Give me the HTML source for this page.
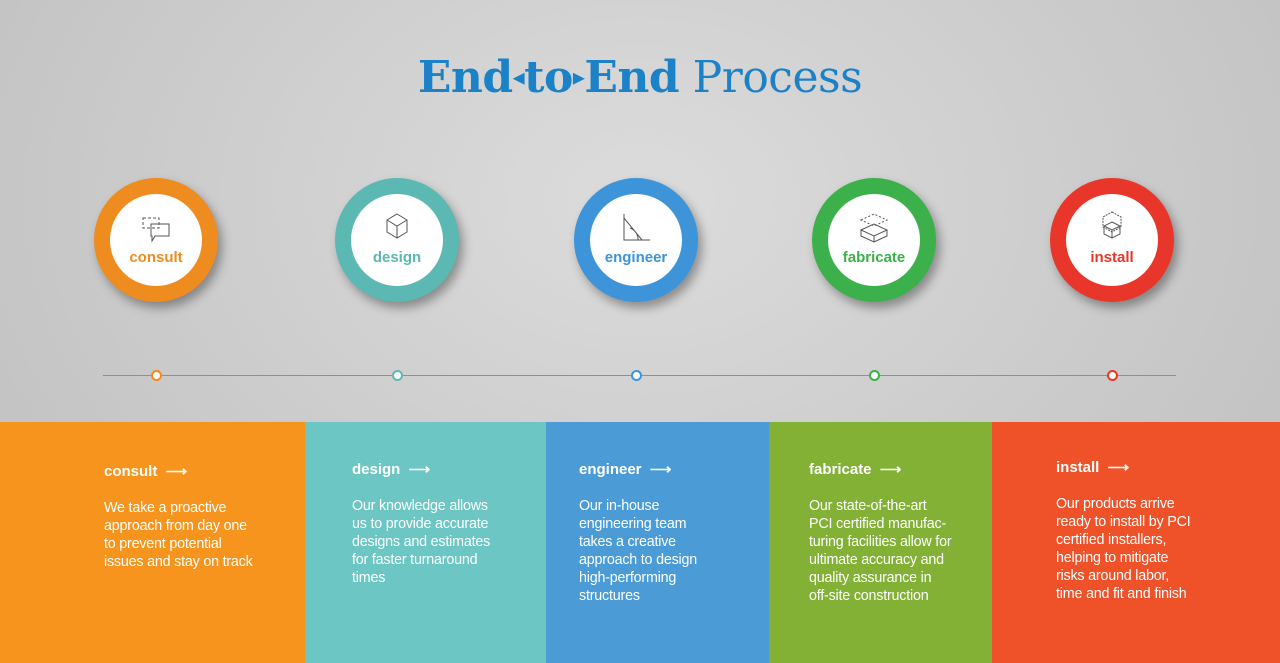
<!DOCTYPE html>
<html><head><meta charset="utf-8"><style>
body{margin:0;width:1280px;height:663px;overflow:hidden;position:relative;font-family:"Liberation Sans",sans-serif;
background:radial-gradient(ellipse at 50% 30%,#dcdcdc,#c6c6c6 70%,#bdbdbd);}
.title{position:absolute;top:52px;left:0;width:1280px;text-align:center;font-family:"DejaVu Serif","Liberation Serif",serif;font-size:44px;color:#1b82c8;letter-spacing:-0.5px}
.title b{font-weight:bold}
.title .a{font-size:24px;vertical-align:middle;position:relative;top:-4px}
.c{position:absolute;top:178px;width:124px;height:124px;border-radius:50%;box-shadow:4px 6px 10px rgba(0,0,0,.35);}
.c .in{position:absolute;left:16px;top:16px;width:92px;height:92px;border-radius:50%;background:#fff;text-align:center;}
.c .in span{position:absolute;left:0;right:0;top:55px;font-weight:bold;font-size:15px;}
.c svg{position:absolute;left:31px;top:16px}
.line{position:absolute;left:103px;top:375px;width:1073px;height:1px;background:#8a9096}
.dot{position:absolute;top:370px;width:7px;height:7px;border-radius:50%;background:#fff;border:2px solid}
.p{position:absolute;top:422px;height:241px;color:#fff}
.p h{position:absolute;font-weight:bold;font-size:15px}
.p div{position:absolute;font-size:14.3px;line-height:18px;letter-spacing:-0.2px}
</style></head><body>
<div class="title"><b>End<span class="a">◂</span>to<span class="a">▸</span>End</b> Process</div>

<div class="c" style="left:94px;background:#ef8c1f"><div class="in"><svg width="30" height="34" stroke="#555" fill="none" stroke-width="1"><path d="M2 8h16v10H2z" stroke-dasharray="3 2"/><path d="M10 14h18v12H14l-3 5v-5h-1z"/></svg><span style="color:#ef8c1f">consult</span></div></div>
<div class="c" style="left:335px;background:#5bb8b2"><div class="in"><svg width="30" height="34" stroke="#555" fill="none" stroke-width="1"><path d="M15 4l10 6v12l-10 6-10-6V10z"/><path d="M15 16v12M5 10l10 6 10-6"/></svg><span style="color:#5bb8b2">design</span></div></div>
<div class="c" style="left:574px;background:#3d94d8"><div class="in"><svg width="30" height="34" stroke="#555" fill="none" stroke-width="1"><path d="M3 4v26h26M3 8l18 22M9 18a12 12 0 0 1 8 12"/></svg><span style="color:#3d94d8">engineer</span></div></div>
<div class="c" style="left:812px;background:#3cb04a"><div class="in"><svg width="30" height="34" stroke="#555" fill="none" stroke-width="1"><path d="M2 20l13-6 13 6-13 6z M2 20v6l13 6 13-6v-6M15 26v6"/><path d="M2 10l13-6 13 6-13 6z" stroke-dasharray="2 2"/></svg><span style="color:#3cb04a">fabricate</span></div></div>
<div class="c" style="left:1050px;background:#e8372a"><div class="in"><svg width="30" height="34" stroke="#555" fill="none" stroke-width="1"><path d="M15 2l9 5v10l-9 5-9-5V7z" stroke-dasharray="2 1"/><path d="M15 12l8 4v8l-8 4-8-4v-8z M15 20v8M7 16l8 4 8-4"/></svg><span style="color:#e8372a">install</span></div></div>

<div class="line"></div>
<div class="dot" style="left:151px;border-color:#ef8c1f"></div>
<div class="dot" style="left:392px;border-color:#5bb8b2"></div>
<div class="dot" style="left:631px;border-color:#3d94d8"></div>
<div class="dot" style="left:869px;border-color:#3cb04a"></div>
<div class="dot" style="left:1107px;border-color:#e8372a"></div>

<div class="p" style="left:0;width:305px;background:#f7941d"><h style="left:104px;top:40px">consult &nbsp;⟶</h><div style="left:104px;top:77px">We take a proactive<br>approach from day one<br>to prevent potential<br>issues and stay on track</div></div>
<div class="p" style="left:305px;width:241px;background:#6cc7c4"><h style="left:47px;top:38px">design &nbsp;⟶</h><div style="left:47px;top:75px">Our knowledge allows<br>us to provide accurate<br>designs and estimates<br>for faster turnaround<br>times</div></div>
<div class="p" style="left:546px;width:223px;background:#4a9bd6"><h style="left:33px;top:38px">engineer &nbsp;⟶</h><div style="left:33px;top:75px">Our in-house<br>engineering team<br>takes a creative<br>approach to design<br>high-performing<br>structures</div></div>
<div class="p" style="left:769px;width:223px;background:#82b135"><h style="left:40px;top:38px">fabricate &nbsp;⟶</h><div style="left:40px;top:75px">Our state-of-the-art<br>PCI certified manufac-<br>turing facilities allow for<br>ultimate accuracy and<br>quality assurance in<br>off-site construction</div></div>
<div class="p" style="left:992px;width:288px;background:#ef5128"><h style="left:64px;top:36px">install &nbsp;⟶</h><div style="left:64px;top:73px">Our products arrive<br>ready to install by PCI<br>certified installers,<br>helping to mitigate<br>risks around labor,<br>time and fit and finish</div></div>
</body></html>
